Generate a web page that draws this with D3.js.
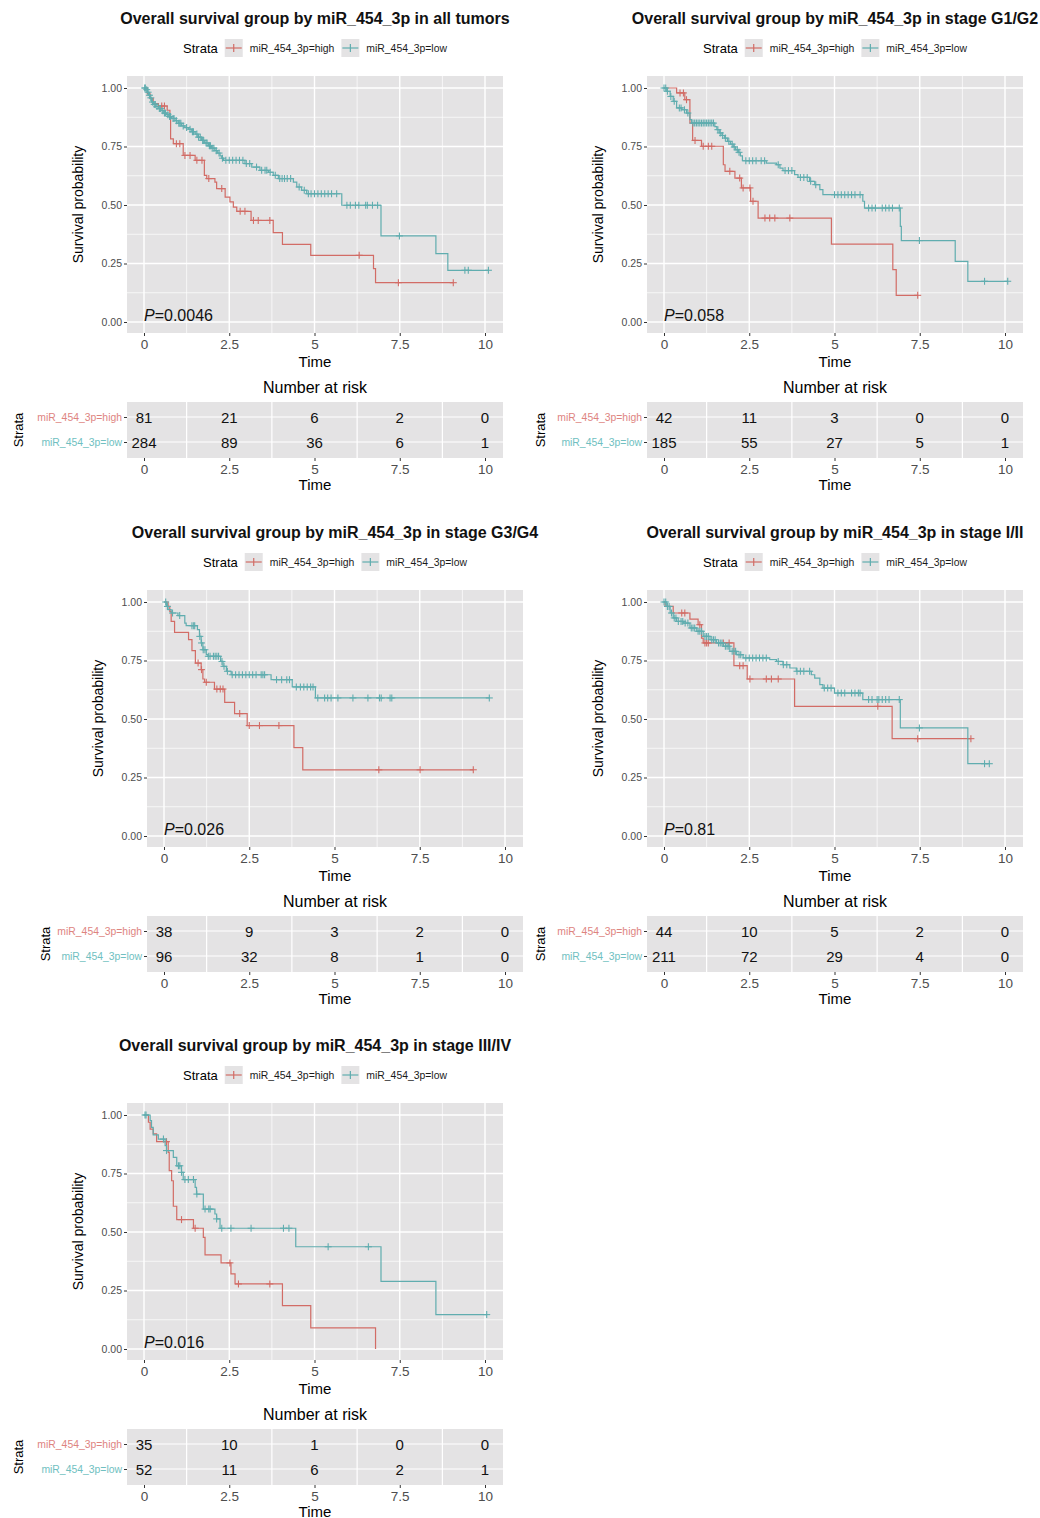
<!DOCTYPE html>
<meta charset="utf-8">
<script src="https://d3js.org/d3.v7.min.js"></script>
<style>
  body { margin: 0; background: #fff; }
  text { font-family: "Liberation Sans", Arial, Helvetica, sans-serif; }
</style>
<div id="chart"></div>
<script>

// ---- data ----
const strata = ["miR_454_3p=high", "miR_454_3p=low"];
const timeTicks = [0, 2.5, 5, 7.5, 10];
const timeMinor = [1.25, 3.75, 6.25, 8.75];
const survTicks = [0, 0.25, 0.5, 0.75, 1];
const survMinor = [0.125, 0.375, 0.625, 0.875];
const titles = [
  "Overall survival group by miR_454_3p in all tumors",
  "Overall survival group by miR_454_3p in stage G1/G2",
  "Overall survival group by miR_454_3p in stage G3/G4",
  "Overall survival group by miR_454_3p in stage I/II",
  "Overall survival group by miR_454_3p in stage III/IV"
];
const pValues = ["0.0046", "0.058", "0.026", "0.81", "0.016"];

// all tumors
const allHighSteps = [[0.10,0.975],[0.18,0.955],[0.27,0.933],[0.42,0.923],[0.68,0.905],[0.76,0.870],[0.78,0.783],[0.86,0.762],[1.15,0.712],[1.50,0.691],[1.77,0.627],[1.84,0.613],[2.08,0.598],[2.13,0.570],[2.38,0.534],[2.52,0.513],[2.62,0.491],[2.72,0.473],[3.14,0.434],[3.79,0.382],[4.06,0.332],[4.89,0.285],[6.73,0.228],[6.79,0.168]];
const allHighCensor = [0.52,0.60,0.95,1.05,1.20,1.35,1.55,1.70,1.90,2.28,2.82,2.96,3.21,3.35,3.69,6.31,7.46,9.07];
const allLowSteps = [[0.05,0.993],[0.10,0.982],[0.13,0.969],[0.18,0.958],[0.22,0.940],[0.28,0.930],[0.35,0.921],[0.42,0.912],[0.50,0.903],[0.58,0.893],[0.66,0.886],[0.71,0.878],[0.80,0.870],[0.91,0.860],[1.00,0.849],[1.10,0.838],[1.20,0.831],[1.30,0.824],[1.40,0.813],[1.50,0.803],[1.58,0.790],[1.69,0.776],[1.78,0.765],[1.89,0.753],[1.98,0.743],[2.08,0.732],[2.15,0.722],[2.23,0.710],[2.28,0.700],[2.33,0.691],[2.96,0.677],[3.16,0.662],[3.40,0.648],[3.65,0.640],[3.79,0.627],[3.94,0.613],[4.38,0.598],[4.48,0.577],[4.62,0.563],[4.77,0.548],[5.80,0.499],[6.95,0.368],[8.56,0.292],[8.91,0.221]];
const allLowCensor = [0.02,0.04,0.08,0.12,0.16,0.20,0.25,0.30,0.33,0.38,0.45,0.48,0.55,0.60,0.63,0.70,0.75,0.78,0.85,0.88,0.95,1.02,1.05,1.08,1.15,1.25,1.35,1.42,1.45,1.55,1.60,1.65,1.72,1.75,1.82,1.85,1.92,1.95,2.00,2.05,2.12,2.20,2.30,2.40,2.50,2.60,2.70,2.80,2.90,3.00,3.10,3.30,3.45,3.55,3.60,3.70,3.85,3.98,4.05,4.12,4.20,4.30,4.55,4.70,4.82,4.90,5.00,5.10,5.20,5.30,5.40,5.50,5.65,5.95,6.05,6.20,6.30,6.50,6.55,6.70,6.85,7.49,9.41,9.51,10.10];
const allRiskHigh = [81, 21, 6, 2, 0];
const allRiskLow = [284, 89, 36, 6, 1];

// stage G1/G2
const g12HighSteps = [[0.37,0.979],[0.61,0.950],[0.76,0.850],[0.84,0.776],[1.10,0.751],[1.74,0.672],[1.79,0.644],[2.08,0.615],[2.27,0.573],[2.54,0.516],[2.76,0.444],[4.91,0.333],[6.71,0.224],[6.81,0.114]];
const g12HighCensor = [0.47,0.57,0.66,0.91,1.15,1.30,1.40,1.93,2.22,2.32,2.52,2.61,2.96,3.10,3.25,3.69,7.44];
const g12LowSteps = [[0.08,0.986],[0.18,0.964],[0.27,0.943],[0.37,0.915],[0.52,0.907],[0.66,0.893],[0.76,0.865],[0.81,0.850],[1.49,0.835],[1.55,0.822],[1.62,0.808],[1.70,0.797],[1.78,0.786],[1.86,0.772],[1.95,0.760],[2.03,0.748],[2.10,0.736],[2.18,0.725],[2.24,0.710],[2.30,0.689],[3.00,0.679],[3.30,0.672],[3.40,0.658],[3.49,0.647],[3.83,0.630],[3.93,0.618],[4.27,0.601],[4.42,0.587],[4.57,0.566],[4.66,0.544],[5.83,0.516],[5.88,0.487],[6.93,0.409],[6.96,0.348],[8.54,0.259],[8.91,0.174]];
const g12LowCensor = [0.00,0.05,0.10,0.20,0.30,0.45,0.50,0.60,0.70,0.85,0.90,0.95,1.00,1.05,1.10,1.15,1.20,1.25,1.30,1.35,1.40,1.45,1.58,1.65,1.72,1.80,1.90,2.00,2.06,2.15,2.20,2.40,2.50,2.60,2.70,2.85,2.95,3.35,3.55,3.65,3.75,4.00,4.10,4.20,4.30,4.45,5.00,5.10,5.20,5.30,5.40,5.50,5.60,5.75,6.00,6.10,6.20,6.40,6.50,6.60,6.70,6.90,7.49,9.40,10.08];
const g12RiskHigh = [42, 11, 3, 0, 0];
const g12RiskLow = [185, 55, 27, 5, 1];

// stage G3/G4
const g34HighSteps = [[0.12,0.981],[0.17,0.960],[0.21,0.917],[0.31,0.870],[0.72,0.839],[0.82,0.792],[0.92,0.739],[1.09,0.711],[1.14,0.671],[1.19,0.657],[1.48,0.628],[1.78,0.571],[2.07,0.523],[2.44,0.472],[3.81,0.378],[4.07,0.283]];
const g34HighCensor = [1.00,1.10,1.24,1.55,1.65,1.73,2.22,2.50,2.80,3.37,6.30,7.51,9.07];
const g34LowSteps = [[0.07,0.981],[0.12,0.967],[0.21,0.953],[0.41,0.942],[0.61,0.910],[0.65,0.899],[0.98,0.882],[1.04,0.853],[1.09,0.825],[1.14,0.796],[1.24,0.775],[1.29,0.768],[1.66,0.746],[1.73,0.725],[1.83,0.704],[1.97,0.689],[3.14,0.668],[3.76,0.637],[4.44,0.590]];
const g34LowCensor = [0.05,0.10,0.25,0.46,0.82,0.87,0.90,1.05,1.10,1.15,1.20,1.30,1.35,1.45,1.50,1.55,1.60,1.70,1.76,1.86,2.00,2.10,2.20,2.30,2.40,2.50,2.60,2.70,2.85,2.90,2.95,3.30,3.45,3.60,3.68,3.88,4.00,4.10,4.20,4.30,4.37,4.51,4.71,4.80,4.90,5.10,5.54,5.98,6.32,6.37,6.63,6.68,9.54];
const g34RiskHigh = [38, 9, 3, 2, 0];
const g34RiskLow = [96, 32, 8, 1, 0];

// stage I/II
const s12HighSteps = [[0.03,0.981],[0.27,0.953],[0.76,0.927],[1.00,0.903],[1.10,0.846],[1.15,0.825],[2.05,0.728],[2.44,0.671],[3.83,0.554],[6.69,0.416]];
const s12HighCensor = [0.52,0.61,1.05,1.20,1.25,1.30,1.74,1.91,2.22,2.32,2.52,3.00,3.15,3.35,6.27,7.44,9.00];
const s12LowSteps = [[0.08,0.981],[0.18,0.953],[0.27,0.932],[0.37,0.917],[0.57,0.910],[0.76,0.889],[0.96,0.875],[1.15,0.853],[1.35,0.839],[1.54,0.825],[1.74,0.811],[1.93,0.789],[2.13,0.775],[2.32,0.761],[3.10,0.754],[3.30,0.746],[3.49,0.732],[3.69,0.718],[3.88,0.704],[4.32,0.689],[4.42,0.675],[4.57,0.647],[4.66,0.632],[5.00,0.611],[5.83,0.583],[6.93,0.462],[8.91,0.309]];
const s12LowCensor = [0.00,0.05,0.10,0.15,0.22,0.30,0.35,0.42,0.50,0.55,0.62,0.70,0.80,0.85,0.90,1.00,1.05,1.10,1.20,1.25,1.30,1.40,1.45,1.50,1.60,1.65,1.70,1.80,1.85,1.90,2.00,2.05,2.10,2.20,2.25,2.40,2.50,2.60,2.70,2.80,2.90,3.00,3.35,3.50,3.60,3.90,4.00,4.10,4.27,4.70,4.80,4.90,5.10,5.20,5.30,5.50,5.60,5.70,5.75,6.00,6.10,6.25,6.30,6.40,6.50,6.60,6.90,7.49,9.40,9.54];
const s12RiskHigh = [44, 10, 5, 2, 0];
const s12RiskLow = [211, 72, 29, 4, 0];

// stage III/IV
const s34HighSteps = [[0.13,0.969],[0.18,0.940],[0.27,0.919],[0.37,0.886],[0.71,0.840],[0.74,0.762],[0.81,0.719],[0.86,0.610],[0.96,0.553],[1.45,0.516],[1.74,0.477],[1.79,0.402],[2.26,0.368],[2.55,0.321],[2.67,0.278],[4.06,0.185],[4.89,0.090],[6.79,0]];
const s34HighCensor = [0.66,1.10,1.50,2.52,2.77,3.69];
const s34LowSteps = [[0.18,0.976],[0.22,0.947],[0.27,0.915],[0.42,0.897],[0.62,0.869],[0.66,0.848],[0.86,0.819],[0.96,0.783],[1.10,0.755],[1.15,0.724],[1.50,0.691],[1.54,0.662],[1.74,0.598],[2.08,0.577],[2.13,0.556],[2.23,0.516],[4.45,0.437],[6.95,0.289],[8.56,0.147]];
const s34LowCensor = [0.03,0.06,0.57,0.66,1.01,1.05,1.10,1.20,1.30,1.45,1.55,1.79,1.90,1.94,2.13,2.28,2.55,3.14,4.09,4.25,5.40,6.58,10.05];
const s34RiskHigh = [35, 10, 1, 0, 0];
const s34RiskLow = [52, 11, 6, 2, 1];

// ---- panels and layout ----
const panels = [
  { high: allHighSteps, highC: allHighCensor, low: allLowSteps, lowC: allLowCensor, rh: allRiskHigh, rl: allRiskLow },
  { high: g12HighSteps, highC: g12HighCensor, low: g12LowSteps, lowC: g12LowCensor, rh: g12RiskHigh, rl: g12RiskLow },
  { high: g34HighSteps, highC: g34HighCensor, low: g34LowSteps, lowC: g34LowCensor, rh: g34RiskHigh, rl: g34RiskLow },
  { high: s12HighSteps, highC: s12HighCensor, low: s12LowSteps, lowC: s12LowCensor, rh: s12RiskHigh, rl: s12RiskLow },
  { high: s34HighSteps, highC: s34HighCensor, low: s34LowSteps, lowC: s34LowCensor, rh: s34RiskHigh, rl: s34RiskLow }
];
const layout = [
  { ox: 0, oy: 0, left: 127, strataX: 18 },
  { ox: 520, oy: 0, left: 127, strataX: 20 },
  { ox: 0, oy: 514, left: 147, strataX: 45 },
  { ox: 520, oy: 514, left: 127, strataX: 20 },
  { ox: 0, oy: 1027, left: 127, strataX: 18 }
];

const lineColors = ["#D26C66", "#60ADAF"];
const labelColors = ["#DE847F", "#70BFC1"];
const panelBg = "#E4E3E4";
const tickGrey = "#4D4D4D";

const svg = d3.select("#chart").append("svg")
  .attr("width", 1040).attr("height", 1518);

function survAt(steps, t) {
  let s = 1;
  for (const [st, sv] of steps) { if (st <= t + 1e-9) s = sv; else break; }
  return s;
}

function stepPoints(steps, censor) {
  const pts = [[0, 1]];
  let prev = 1;
  steps.forEach(([t, s]) => { pts.push([t, prev]); pts.push([t, s]); prev = s; });
  const end = Math.max(steps[steps.length - 1][0], d3.max(censor));
  if (end > steps[steps.length - 1][0]) pts.push([end, prev]);
  return pts;
}

panels.forEach((p, i) => {
  const L = layout[i];
  const g = svg.append("g").attr("transform", `translate(${L.ox},${L.oy})`);
  const left = L.left, right = left + 376;
  const cx = (left + right) / 2;

  const x = d3.scaleLinear().domain([0, 10]).range([left + 17, left + 358]);
  const y = d3.scaleLinear().domain([0, 1]).range([322, 88]);

  // title
  g.append("text").attr("x", cx).attr("y", 23.5).attr("text-anchor", "middle")
    .attr("font-size", 16).attr("font-weight", "bold").attr("fill", "#111")
    .text(titles[i]);

  // legend
  const leg = g.append("g");
  const legTitle = leg.append("text").attr("y", 52.5).attr("font-size", 13).text("Strata");
  let lx = legTitle.node().getComputedTextLength() + 7;
  strata.forEach((s, k) => {
    const kg = leg.append("g").attr("transform", `translate(${lx},39)`);
    kg.append("rect").attr("width", 18).attr("height", 18).attr("fill", panelBg);
    kg.append("line").attr("x1", 1).attr("x2", 17).attr("y1", 9).attr("y2", 9)
      .attr("stroke", lineColors[k]).attr("stroke-width", 1.2);
    kg.append("line").attr("x1", 9).attr("x2", 9).attr("y1", 5).attr("y2", 13)
      .attr("stroke", lineColors[k]).attr("stroke-width", 1.2);
    lx += 25;
    const t = leg.append("text").attr("x", lx).attr("y", 51.5).attr("font-size", 10.4)
      .attr("fill", "#1a1a1a").text(s);
    lx += t.node().getComputedTextLength() + 7;
  });
  const legW = lx - 7;
  leg.attr("transform", `translate(${cx - legW / 2},0)`);

  // plot panel
  g.append("rect").attr("x", left).attr("y", 76).attr("width", 376).attr("height", 257).attr("fill", panelBg);
  const grid = g.append("g").attr("stroke", "#fff");
  timeMinor.forEach(t => grid.append("line").attr("x1", x(t)).attr("x2", x(t)).attr("y1", 76).attr("y2", 333).attr("stroke-width", 0.7));
  survMinor.forEach(s => grid.append("line").attr("x1", left).attr("x2", right).attr("y1", y(s)).attr("y2", y(s)).attr("stroke-width", 0.7));
  timeTicks.forEach(t => grid.append("line").attr("x1", x(t)).attr("x2", x(t)).attr("y1", 76).attr("y2", 333).attr("stroke-width", 1.4));
  survTicks.forEach(s => grid.append("line").attr("x1", left).attr("x2", right).attr("y1", y(s)).attr("y2", y(s)).attr("stroke-width", 1.4));

  // axes
  const yAxis = g.append("g").attr("transform", `translate(${left},0)`)
    .call(d3.axisLeft(y).tickValues(survTicks).tickFormat(d3.format(".2f")).tickSize(3).tickPadding(2));
  yAxis.select(".domain").remove();
  yAxis.selectAll("line").attr("stroke", "#333");
  yAxis.selectAll("text").attr("font-size", 10.5).attr("fill", tickGrey).attr("font-family", null);

  const xAxis = g.append("g").attr("transform", "translate(0,333)")
    .call(d3.axisBottom(x).tickValues(timeTicks).tickFormat(d => d).tickSize(3).tickPadding(3));
  xAxis.select(".domain").remove();
  xAxis.selectAll("line").attr("stroke", "#333");
  xAxis.selectAll("text").attr("font-size", 13.5).attr("fill", tickGrey).attr("font-family", null);

  g.append("text").attr("x", cx).attr("y", 366.5).attr("text-anchor", "middle").attr("font-size", 15).text("Time");
  g.append("text").attr("transform", `translate(${left - 44},${(76 + 333) / 2}) rotate(-90)`)
    .attr("text-anchor", "middle").attr("font-size", 14).text("Survival probability");

  // curves
  const line = d3.line().x(d => x(d[0])).y(d => y(d[1]));
  [[p.high, p.highC], [p.low, p.lowC]].forEach(([steps, cens], k) => {
    g.append("path").datum(stepPoints(steps, cens))
      .attr("fill", "none").attr("stroke", lineColors[k]).attr("stroke-width", 1.2).attr("d", line);
    const cg = g.append("g").attr("stroke", lineColors[k]).attr("stroke-width", 1.1);
    cens.forEach(t => {
      const px = x(t), py = y(survAt(steps, t));
      cg.append("line").attr("x1", px - 3.5).attr("x2", px + 3.5).attr("y1", py).attr("y2", py);
      cg.append("line").attr("x1", px).attr("x2", px).attr("y1", py - 3.5).attr("y2", py + 3.5);
    });
  });

  // p value
  const pt = g.append("text").attr("x", x(0)).attr("y", 321).attr("font-size", 16).attr("fill", "#111");
  pt.append("tspan").attr("font-style", "italic").text("P");
  pt.append("tspan").text("=" + pValues[i]);

  // ---- risk table ----
  g.append("text").attr("x", cx).attr("y", 392.5).attr("text-anchor", "middle").attr("font-size", 16).text("Number at risk");
  g.append("rect").attr("x", left).attr("y", 402).attr("width", 376).attr("height", 56).attr("fill", panelBg);
  const ry = d3.scalePoint().domain(strata).range([417, 442]);
  const rgrid = g.append("g").attr("stroke", "#fff");
  timeMinor.forEach(t => rgrid.append("line").attr("x1", x(t)).attr("x2", x(t)).attr("y1", 402).attr("y2", 458).attr("stroke-width", 1.2));
  strata.forEach(s => rgrid.append("line").attr("x1", left).attr("x2", right).attr("y1", ry(s)).attr("y2", ry(s)).attr("stroke-width", 1.2));

  [p.rh, p.rl].forEach((vals, k) => {
    vals.forEach((v, j) => {
      g.append("text").attr("x", x(timeTicks[j])).attr("y", ry(strata[k]) + 5.5)
        .attr("text-anchor", "middle").attr("font-size", 15).attr("fill", "#111").text(v);
    });
  });

  const ryAxis = g.append("g").attr("transform", `translate(${left},0)`)
    .call(d3.axisLeft(ry).tickSize(3).tickPadding(2));
  ryAxis.select(".domain").remove();
  ryAxis.selectAll("line").attr("stroke", "#333");
  ryAxis.selectAll("text").attr("font-size", 10.4).attr("font-family", null)
    .attr("fill", (d, k) => labelColors[k]);

  const rxAxis = g.append("g").attr("transform", "translate(0,458)")
    .call(d3.axisBottom(x).tickValues(timeTicks).tickFormat(d => d).tickSize(3).tickPadding(3));
  rxAxis.select(".domain").remove();
  rxAxis.selectAll("line").attr("stroke", "#333");
  rxAxis.selectAll("text").attr("font-size", 13.5).attr("fill", tickGrey).attr("font-family", null);

  g.append("text").attr("x", cx).attr("y", 489.5).attr("text-anchor", "middle").attr("font-size", 15).text("Time");
  g.append("text").attr("transform", `translate(${L.strataX + 5},430) rotate(-90)`)
    .attr("text-anchor", "middle").attr("font-size", 13).text("Strata");
});

</script>
